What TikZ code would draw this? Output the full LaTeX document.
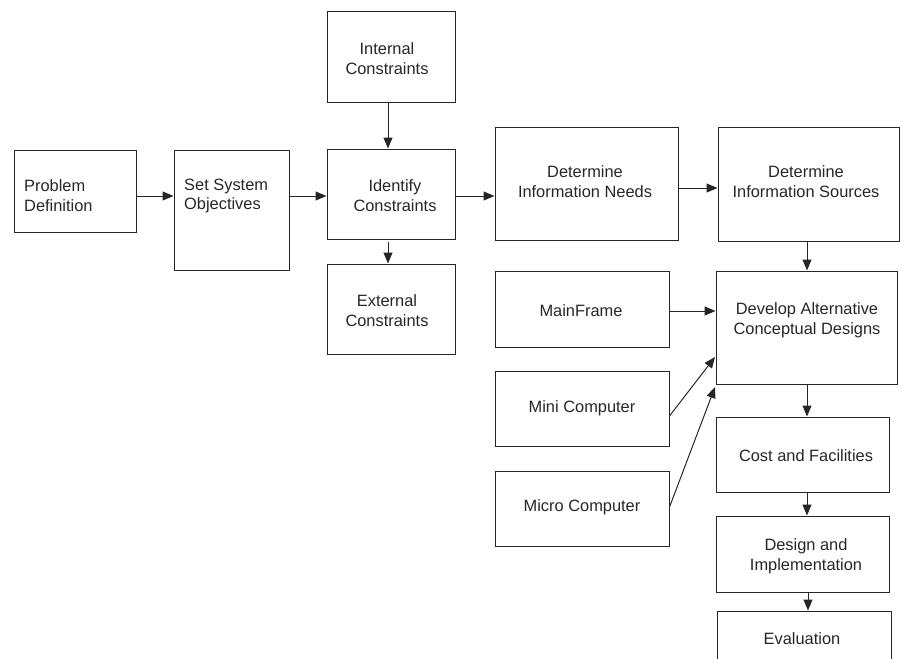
\documentclass[tikz,border=0pt]{standalone}
\usepackage{fontspec}
\setmainfont{Liberation Sans}
\usetikzlibrary{arrows.meta}
\begin{document}
\begin{tikzpicture}[x=1pt,y=-1pt,
  box/.style={draw=black!85,line width=1pt,rectangle,inner sep=0pt},
  txt/.style={inner sep=0pt,align=center,font=\fontsize{16.4}{19.8}\selectfont,text=black!85},
  ltxt/.style={txt,align=left,anchor=west},
  arr/.style={draw=black!85,line width=1pt,-{Triangle[length=11pt,width=9pt]}}]
\useasboundingbox (0,0) rectangle (901,658);
% boxes
\node[box,minimum width=122,minimum height=82] (pd) at (75,191) {};
\node[box,minimum width=115,minimum height=120] (sso) at (231.5,210) {};
\node[box,minimum width=128,minimum height=91] (inc) at (391,57.5) {};
\node[box,minimum width=128,minimum height=90] (idc) at (391,194) {};
\node[box,minimum width=128,minimum height=90] (exc) at (391,309) {};
\node[box,minimum width=183,minimum height=113] (din) at (586.5,183.5) {};
\node[box,minimum width=181,minimum height=114] (dis) at (808.5,184) {};
\node[box,minimum width=174,minimum height=76] (mf) at (582,309) {};
\node[box,minimum width=181,minimum height=113] (dad) at (806.5,327.5) {};
\node[box,minimum width=174,minimum height=75] (mini) at (582,408.5) {};
\node[box,minimum width=174,minimum height=75] (micro) at (582,508.5) {};
\node[box,minimum width=173,minimum height=75] (cf) at (802.5,454.5) {};
\node[box,minimum width=173,minimum height=76] (dai) at (802.5,554) {};
\node[box,minimum width=174,minimum height=76] (ev) at (804,649) {};
% texts
\node[ltxt] (pdt) at (24,196) {Problem\\Definition};
\node[ltxt] (ssot) at (184,196) {Set System\\Objectives};
\node[txt] (inct) at (387,59) {Internal\\Constraints};
\node[txt] (idct) at (395,196) {Identify\\Constraints};
\node[txt] (exct) at (387,311) {External\\Constraints};
\node[txt] (dint) at (585,182) {Determine\\Information Needs};
\node[txt] (dist) at (806,182) {Determine\\Information Sources};
\node[txt] (mft) at (581,311) {MainFrame};
\node[txt] (dadt) at (807,320) {Develop Alternative\\Conceptual Designs};
\node[txt] (minit) at (582,408) {Mini Computer};
\node[txt] (microt) at (582,507) {Micro Computer};
\node[txt] (cft) at (806,456) {Cost and Facilities};
\node[txt] (dait) at (806,556) {Design and\\Implementation};
\node[txt] (evt) at (802,639) {Evaluation};
% connector rows
\coordinate (r1) at (0,196);
\coordinate (r2) at (0,188);
\coordinate (r3) at (0,311);
\coordinate (c1) at (388,0);
\coordinate (c2) at (807,0);
\coordinate (c3) at (808,0);
\coordinate (m1) at (669,416);
\coordinate (m2) at (715,357);
\coordinate (k1) at (669,507);
\coordinate (k2) at (715,387);
% connectors
\draw[arr] (pd.east |- r1) -- (sso.west |- r1);
\draw[arr] (sso.east |- r1) -- (idc.west |- r1);
\draw[arr] (idc.east |- r1) -- (din.west |- r1);
\draw[arr] (din.east |- r2) -- (dis.west |- r2);
\draw[arr] (inc.south -| c1) -- (idc.north -| c1);
\draw[arr] ([yshift=-2pt]idc.south -| c1) -- (exc.north -| c1);
\draw[arr] (dis.south -| c2) -- (dad.north -| c2);
\draw[arr] (mf.east |- r3) -- (dad.west |- r3);
\draw[arr] (mini.east |- m1) -- (m2);
\draw[arr] (micro.east |- k1) -- (k2);
\draw[arr] (dad.south -| c2) -- (cf.north -| c2);
\draw[arr] (cf.south -| c2) -- (dai.north -| c2);
\draw[arr] (dai.south -| c3) -- (ev.north -| c3);
\end{tikzpicture}
\end{document}
